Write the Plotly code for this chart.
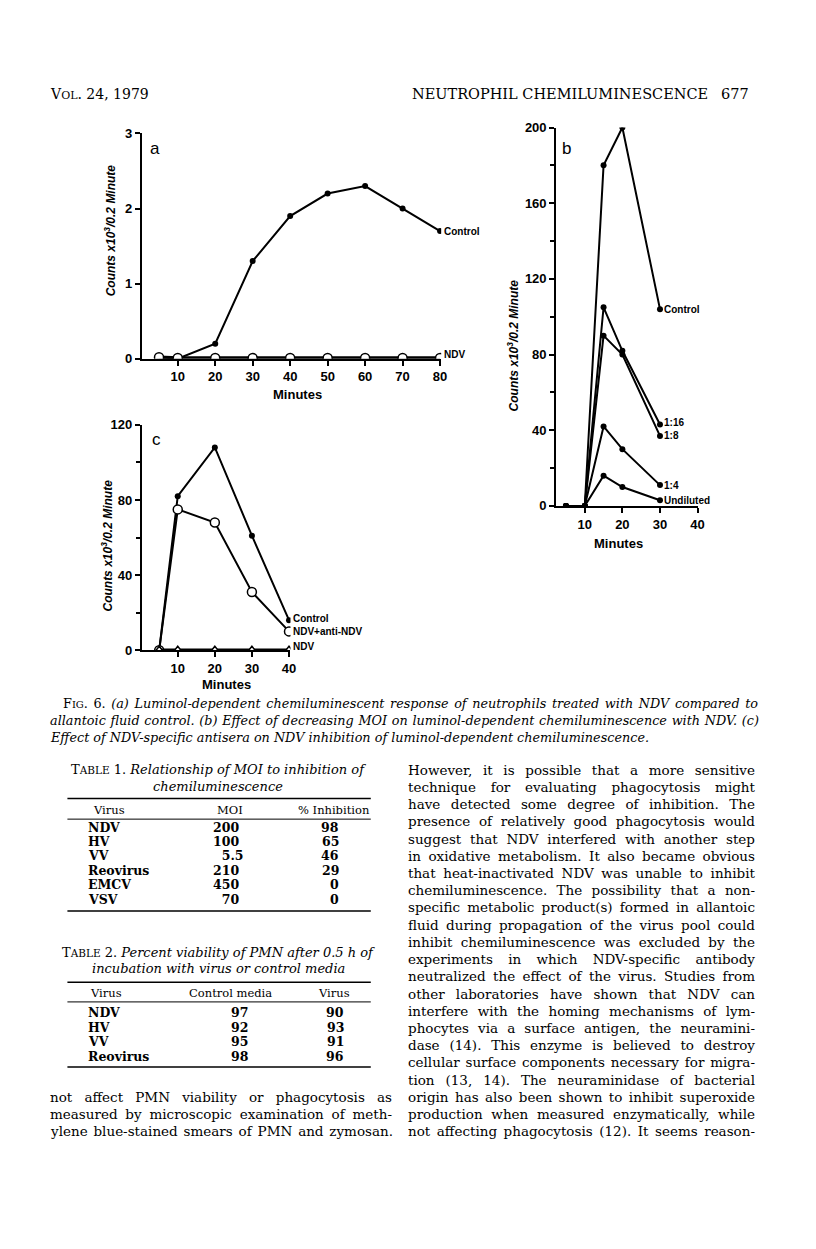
import json
import plotly.graph_objects as go

W, H = 816, 1249

# panel a: allantoic fluid control vs NDV
a_minutes = [5, 10, 20, 30, 40, 50, 60, 70, 80]
a_control = [0.02, 0.0, 0.2, 1.3, 1.9, 2.2, 2.3, 2.0, 1.7]
a_ndv = [0.02, 0.01, 0.01, 0.01, 0.01, 0.01, 0.01, 0.01, 0.01]

# panel b: decreasing MOI
b_minutes = [5, 10, 15, 20, 30]
b_control = [0, 0, 180, 200, 104]
b_1_16 = [0, 0, 105, 82, 43]
b_1_8 = [0, 0, 90, 80, 37]
b_1_4 = [0, 0, 42, 30, 11]
b_undiluted = [0, 0, 16, 10, 3]

# panel c: NDV-specific antisera
c_minutes = [5, 10, 20, 30, 40]
c_control = [0, 82, 108, 61, 16]
c_anti = [0, 75, 68, 31, 10]
c_ndv = [0, 0, 0, 0, 0]

a_ticks = [10, 20, 30, 40, 50, 60, 70, 80]
b_ticks = [10, 20, 30, 40]
c_ticks = [10, 20, 30, 40]

# tables
t1_virus = ["NDV", "HV", "VV", "Reovirus", "EMCV", "VSV"]
t1_moi = ["200", "100", "  5.5", "210", "450", "  70"]
t1_inhib = ["98", "65", "46", "29", "0", "0"]

t2_virus = ["NDV", "HV", "VV", "Reovirus"]
t2_control = ["97", "92", "95", "98"]
t2_virus_val = ["90", "93", "91", "96"]

caption = [
    "F<span style='font-size:10px'>IG</span>. 6. <i>(a) Luminol-dependent chemiluminescent response of neutrophils treated with NDV compared to</i>",
    "<i>allantoic fluid control. (b) Effect of decreasing MOI on luminol-dependent chemiluminescence with NDV. (c)</i>",
    "<i>Effect of NDV-specific antisera on NDV inhibition of luminol-dependent chemiluminescence.</i>",
]

left_text = [
    "not affect PMN viability or phagocytosis as",
    "measured by microscopic examination of meth-",
    "ylene blue-stained smears of PMN and zymosan.",
]

right_text = [
    "However, it is possible that a more sensitive",
    "technique for evaluating phagocytosis might",
    "have detected some degree of inhibition. The",
    "presence of relatively good phagocytosis would",
    "suggest that NDV interfered with another step",
    "in oxidative metabolism. It also became obvious",
    "that heat-inactivated NDV was unable to inhibit",
    "chemiluminescence. The possibility that a non-",
    "specific metabolic product(s) formed in allantoic",
    "fluid during propagation of the virus pool could",
    "inhibit chemiluminescence was excluded by the",
    "experiments in which NDV-specific antibody",
    "neutralized the effect of the virus. Studies from",
    "other laboratories have shown that NDV can",
    "interfere with the homing mechanisms of lym-",
    "phocytes via a surface antigen, the neuramini-",
    "dase (14). This enzyme is believed to destroy",
    "cellular surface components necessary for migra-",
    "tion (13, 14). The neuraminidase of bacterial",
    "origin has also been shown to inhibit superoxide",
    "production when measured enzymatically, while",
    "not affecting phagocytosis (12). It seems reason-",
]

SANS = "Liberation Sans Narrow, Liberation Sans, Arial"
SERIF = "DejaVu Serif, serif"


def px(x):
    return x / W


def py(y):
    return 1 - y / H


fig = go.Figure()

filled = dict(symbol="circle", size=6, color="black")
hollow = dict(symbol="circle", size=9, color="white", line=dict(color="black", width=1.5))
tri = dict(symbol="triangle-up", size=8, color="white", line=dict(color="black", width=1.5))
line = dict(color="black", width=2)
thick = dict(color="black", width=3.5)

fig.add_trace(go.Scatter(x=a_minutes, y=a_control, mode="lines+markers", marker=filled, line=line, xaxis="x", yaxis="y"))
fig.add_trace(go.Scatter(x=a_minutes, y=a_ndv, mode="lines+markers", marker=hollow, line=thick, xaxis="x", yaxis="y"))

for s in [b_control, b_1_16, b_1_8, b_1_4, b_undiluted]:
    fig.add_trace(go.Scatter(x=b_minutes, y=s, mode="lines+markers", marker=filled, line=line, xaxis="x2", yaxis="y2"))

fig.add_trace(go.Scatter(x=c_minutes, y=c_control, mode="lines+markers", marker=filled, line=line, xaxis="x3", yaxis="y3"))
fig.add_trace(go.Scatter(x=c_minutes, y=c_anti, mode="lines+markers", marker=hollow, line=line, xaxis="x3", yaxis="y3"))
fig.add_trace(go.Scatter(x=c_minutes, y=c_ndv, mode="lines+markers", marker=tri, line=thick, xaxis="x3", yaxis="y3"))

axis_style = dict(showline=True, linecolor="black", linewidth=2, ticks="outside", ticklen=5,
                  tickwidth=1.5, tickcolor="black", showgrid=False, zeroline=False,
                  tickfont=dict(family=SANS, size=13, color="black", weight="bold"))

fig.update_layout(
    width=W, height=H, margin=dict(l=0, r=0, t=0, b=0),
    paper_bgcolor="white", plot_bgcolor="rgba(0,0,0,0)", showlegend=False,
    xaxis=dict(axis_style, domain=[px(143), px(445)], range=[0.4, 80.3], tickvals=a_ticks, anchor="y"),
    yaxis=dict(axis_style, domain=[py(356), py(128)], range=[0, 3], tickvals=[0, 1, 2, 3], anchor="x"),
    xaxis2=dict(axis_style, domain=[px(561), px(704)], range=[2.4, 40.1], tickvals=b_ticks, anchor="y2"),
    yaxis2=dict(axis_style, domain=[py(505), py(122)], range=[0, 200], tickvals=[0, 40, 80, 120, 160, 200],
                minor=dict(tickvals=[20, 60, 100, 140, 180], ticklen=4, ticks="outside", tickcolor="black"), anchor="x2"),
    xaxis3=dict(axis_style, domain=[px(143), px(293)], range=[0.3, 40.4], tickvals=c_ticks, anchor="y3"),
    yaxis3=dict(axis_style, domain=[py(651), py(423)], range=[0, 120], tickvals=[0, 40, 80, 120],
                minor=dict(tickvals=[20, 60, 100], ticklen=4, ticks="outside", tickcolor="black"), anchor="x3"),
)

ann = []
justify = {}  # annotation index -> target line width in px


def text(x, y, s, size=13, family=SERIF, anchor="left", angle=0, width=None, **kw):
    if width:
        justify[len(ann)] = width
    ann.append(dict(x=px(x), y=py(y), xref="paper", yref="paper", text=s, showarrow=False,
                    xanchor=anchor, yanchor="middle", textangle=angle, align="left" if width else "center",
                    font=dict(family=family, size=size, color="black", **kw)))


def label(xr, yr, x, y, s, size=10):
    ann.append(dict(x=x, y=y, xref=xr, yref=yr, text="<b>" + s + "</b>", showarrow=False,
                    xanchor="left", yanchor="middle", xshift=2,
                    font=dict(family=SANS, size=size, color="black")))


# panel letters, axis titles
text(149, 143, "a", size=17, family=SANS)
text(565, 143, "b", size=17, family=SANS)
text(151, 438, "c", size=17, family=SANS)
ytitle = "<b><i>Counts x10<sup>3</sup>/0.2 Minute</i></b>"
text(111, 226, ytitle, size=12, family=SANS, anchor="center", angle=-90)
text(517, 343, ytitle, size=12, family=SANS, anchor="center", angle=-90)
text(108, 545, ytitle, size=12, family=SANS, anchor="center", angle=-90)
text(300, 392, "<b>Minutes</b>", size=13, family=SANS, anchor="center")
text(624, 543, "<b>Minutes</b>", size=13, family=SANS, anchor="center")
text(228, 686, "<b>Minutes</b>", size=13, family=SANS, anchor="center")

# series end labels
label("x", "y", 80, 1.7, "Control")
label("x", "y", 80, 0.06, "NDV")
label("x2", "y2", 30, 104, "Control")
label("x2", "y2", 30, 44, "1:16")
label("x2", "y2", 30, 37, "1:8")
label("x2", "y2", 30, 11, "1:4")
label("x2", "y2", 30, 3, "Undiluted")
label("x3", "y3", 40, 17, "Control")
label("x3", "y3", 40, 10, "NDV+anti-NDV")
label("x3", "y3", 40, 2, "NDV")

# running head
text(48, 88, "V<span style='font-size:11px'>OL</span>. 24, 1979", size=14)
text(716, 88, "NEUTROPHIL CHEMILUMINESCENCE", size=14.5, anchor="right")
text(757, 88, "677", size=14.5, anchor="right")

# caption
text(62, 705, caption[0], size=12.8, width=695)
text(48, 722, caption[1], size=12.8, width=709)
text(48, 739, caption[2], size=12.8)

# table 1
text(220, 772, "T<span style='font-size:10.5px'>ABLE</span> 1. <i>Relationship of MOI to inhibition of</i>", size=13, anchor="center")
text(220, 789, "<i>chemiluminescence</i>", size=13, anchor="center")
text(110, 813, "Virus", size=11.5, anchor="center")
text(232, 813, "MOI", size=11.5, anchor="center")
text(337, 813, "% Inhibition", size=11.5, anchor="center")
for i, v in enumerate(t1_virus):
    yy = 830 + i * 14.6
    text(87, yy, "<b>" + v + "</b>", size=12.5)
    text(213, yy, "<b>" + t1_moi[i].replace(" ", "&nbsp;") + "</b>", size=12.5)
    text(344, yy, "<b>" + t1_inhib[i] + "</b>", size=12.5, anchor="right")

# table 2
text(220, 957, "T<span style='font-size:10.5px'>ABLE</span> 2. <i>Percent viability of PMN after 0.5 h of</i>", size=13, anchor="center")
text(220, 973, "<i>incubation with virus or control media</i>", size=13, anchor="center")
text(107, 998, "Virus", size=11.5, anchor="center")
text(232, 998, "Control media", size=11.5, anchor="center")
text(337, 998, "Virus", size=11.5, anchor="center")
for i, v in enumerate(t2_virus):
    yy = 1018 + i * 14.7
    text(87, yy, "<b>" + v + "</b>", size=12.5)
    text(242, yy, "<b>" + t2_control[i] + "</b>", size=12.5, anchor="center")
    text(338, yy, "<b>" + t2_virus_val[i] + "</b>", size=12.5, anchor="center")

# body text, justified to the column width
for i, s in enumerate(left_text):
    text(48, 1103 + i * 17.4, s, size=13.5, width=342)
for i, s in enumerate(right_text):
    text(410, 772 + i * 17.43, s, size=13.5, width=347)

fig.update_layout(annotations=ann)

shapes = []
for y0, w in [(801, 1.5), (822, 1), (915, 1.5), (987, 1.5), (1007, 1), (1073, 1.5)]:
    shapes.append(dict(type="line", xref="paper", yref="paper", x0=px(68), x1=px(374),
                       y0=py(y0), y1=py(y0), line=dict(color="black", width=w)))
fig.update_layout(shapes=shapes)

# drop the page margin and spread words so body lines fill the column
post = """
document.body.style.margin = '0';
var gd = document.getElementById('{plot_id}');
var targets = TARGETS;
gd.querySelectorAll('g.annotation').forEach(function (g) {
    var w = targets[g.getAttribute('data-index')];
    if (!w) return;
    var t = g.querySelector('text.annotation-text');
    var n = (t.textContent.match(/ /g) || []).length;
    if (n > 0) t.style.wordSpacing = ((w - t.getComputedTextLength()) / n) + 'px';
});
""".replace("TARGETS", json.dumps({str(k): v for k, v in justify.items()}))

fig.write_html("out.html", post_script=post, config={"displayModeBar": False})
